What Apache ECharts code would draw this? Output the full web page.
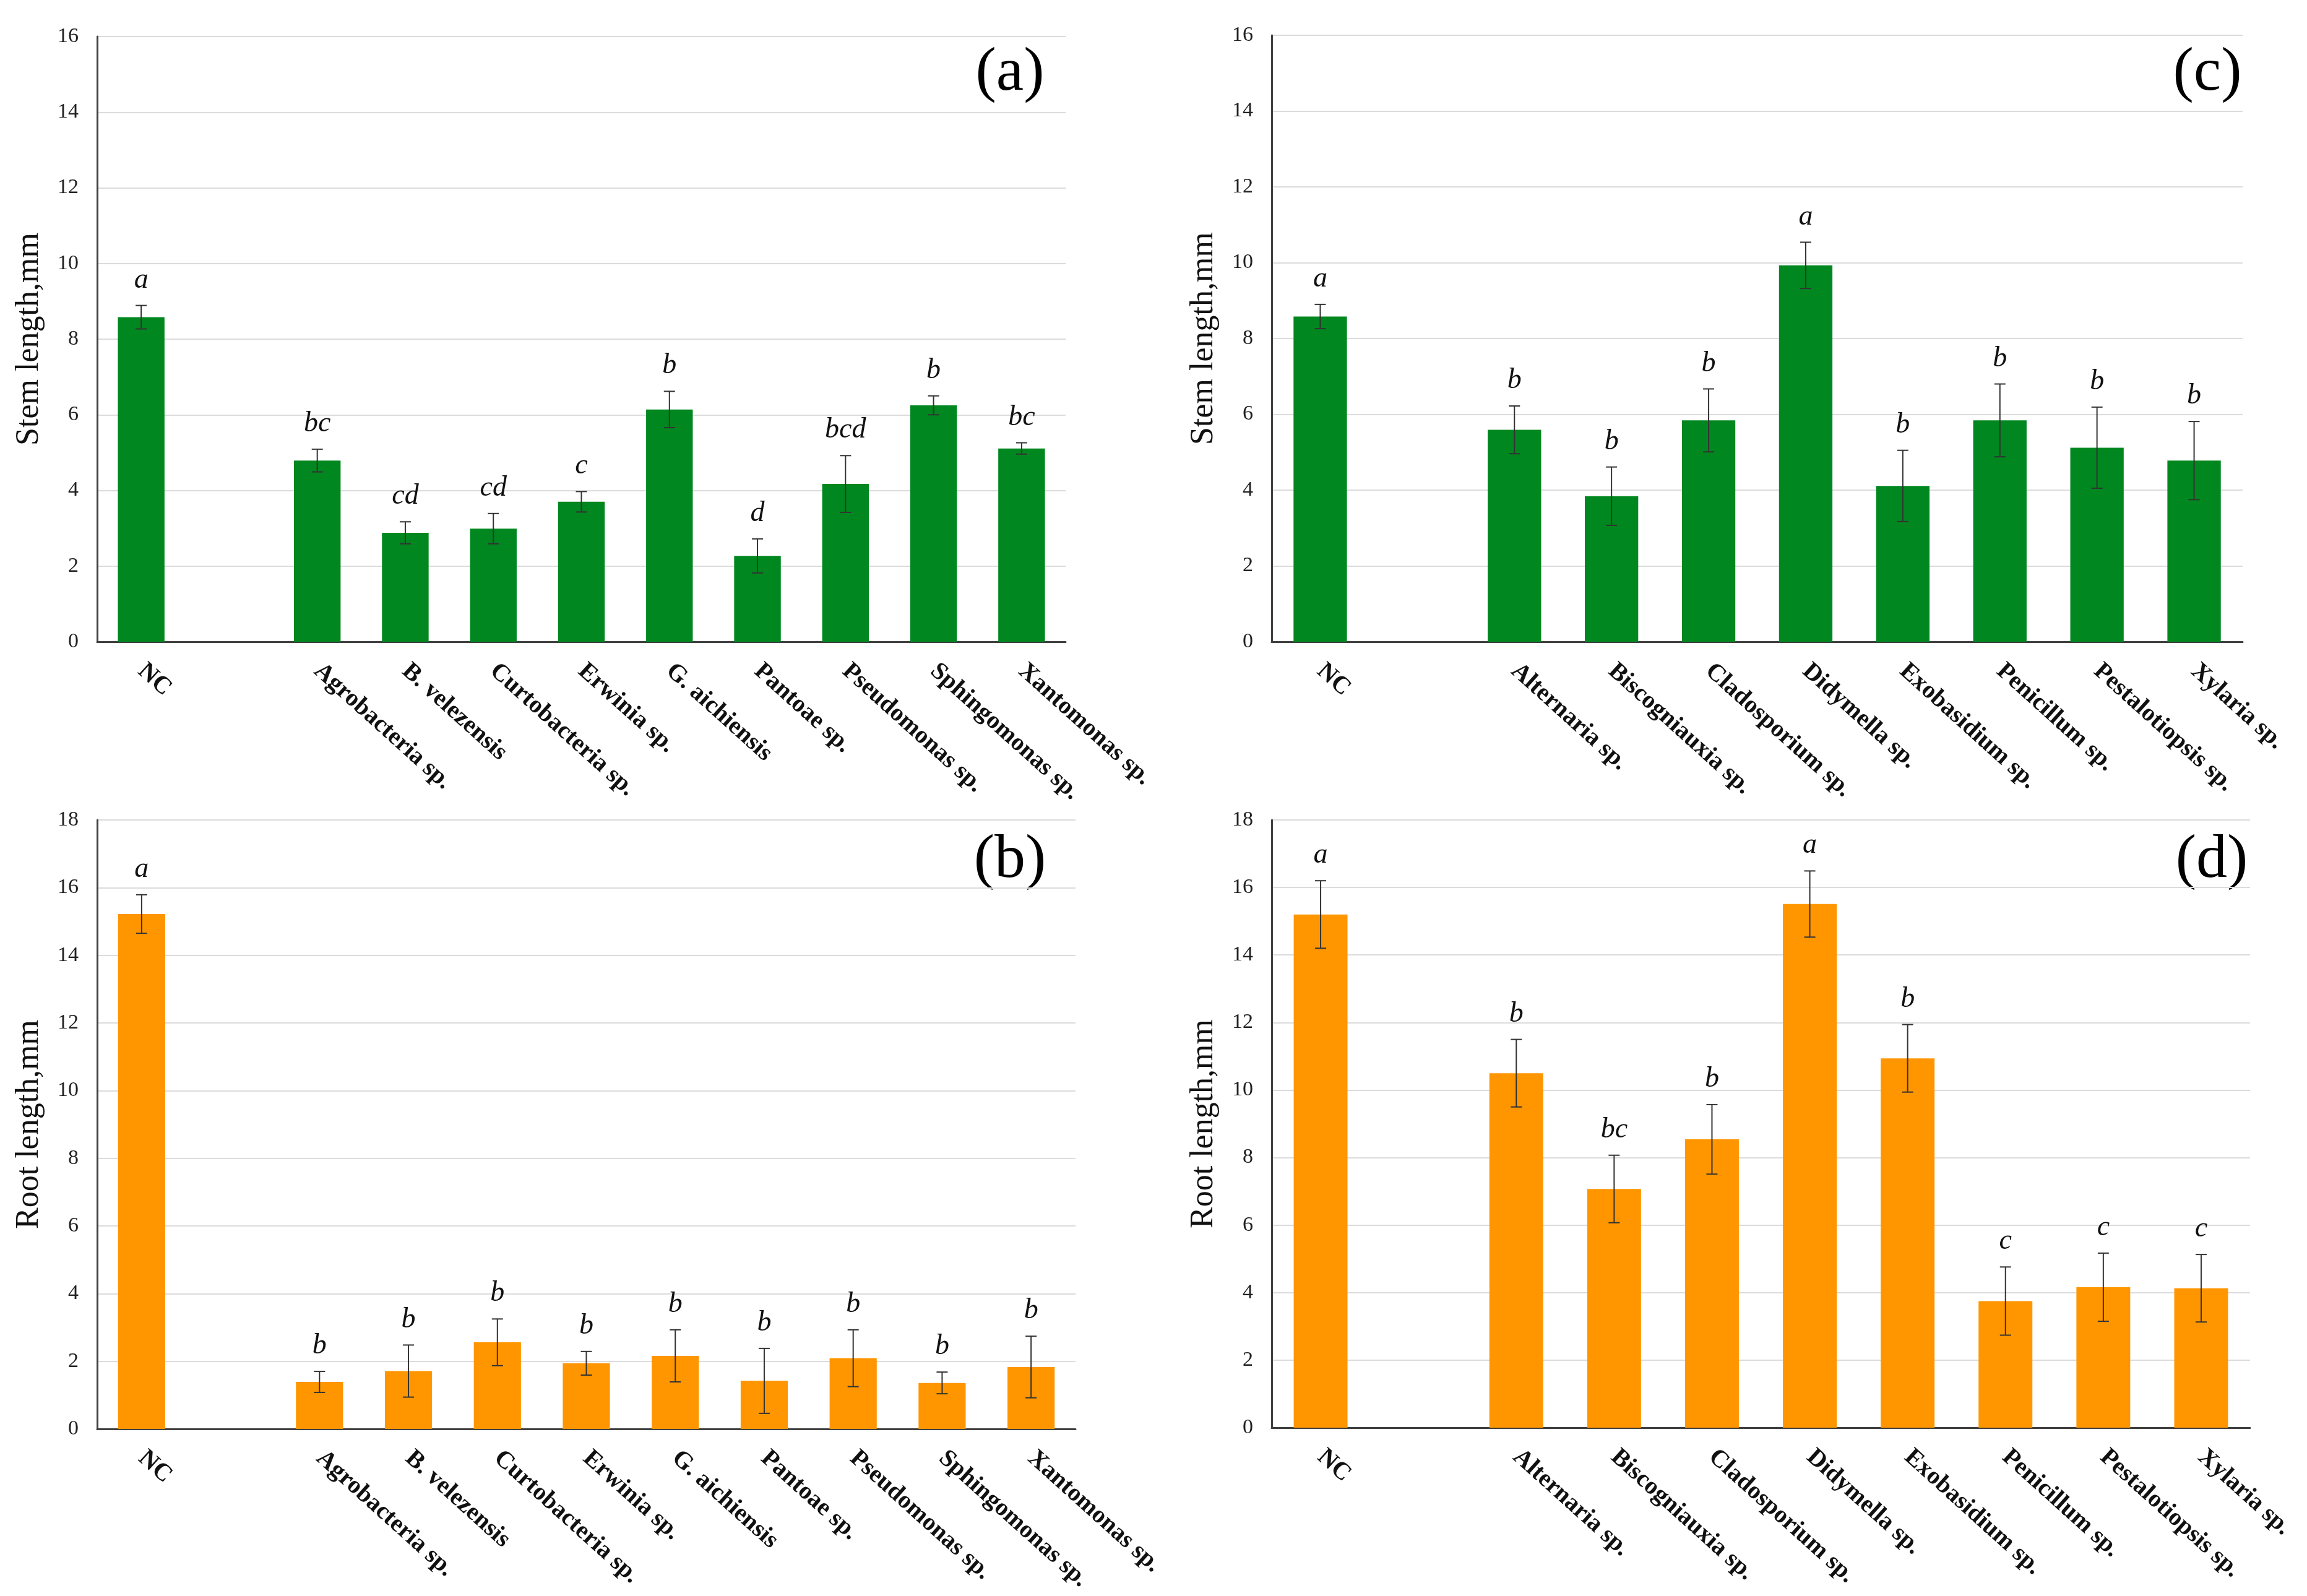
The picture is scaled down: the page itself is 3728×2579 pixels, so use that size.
<!DOCTYPE html>
<html>
<head>
<meta charset="utf-8">
<script src="https://cdn.jsdelivr.net/npm/echarts@6/dist/echarts.min.js"></script>
<style>
  html, body { margin: 0; padding: 0; background: #fff; }
  #chart { width: 3728px; height: 2579px; }
</style>
</head>
<body>
<div id="chart"></div>
<script>
// categories (empty slot after NC, as in the original)
const bacteriaCats = ["NC", "", "Agrobacteria sp.", "B. velezensis", "Curtobacteria sp.", "Erwinia sp.",
  "G. aichiensis", "Pantoae sp.", "Pseudomonas sp.", "Sphingomonas sp.", "Xantomonas sp."];
const fungiCats = ["NC", "", "Alternaria sp.", "Biscogniauxia sp.", "Cladosporium sp.", "Didymella sp.",
  "Exobasidium sp.", "Penicillum sp.", "Pestalotiopsis sp.", "Xylaria sp."];

// (a) stem length, bacteria
const bacStem = [8.58, null, 4.79, 2.88, 2.99, 3.70, 6.14, 2.27, 4.17, 6.25, 5.11];
const bacStemErr = [0.31, null, 0.30, 0.29, 0.40, 0.27, 0.48, 0.45, 0.75, 0.25, 0.15];
const bacStemLetters = ["a", "", "bc", "cd", "cd", "c", "b", "d", "bcd", "b", "bc"];

// (b) root length, bacteria
const bacRoot = [15.22, null, 1.39, 1.71, 2.56, 1.94, 2.16, 1.42, 2.09, 1.36, 1.83];
const bacRootErr = [0.57, null, 0.31, 0.77, 0.69, 0.35, 0.77, 0.96, 0.84, 0.32, 0.91];
const bacRootLetters = ["a", "", "b", "b", "b", "b", "b", "b", "b", "b", "b"];

// (c) stem length, fungi
const funStem = [8.58, null, 5.59, 3.84, 5.84, 9.93, 4.11, 5.84, 5.12, 4.78];
const funStemErr = [0.32, null, 0.63, 0.77, 0.83, 0.61, 0.94, 0.96, 1.07, 1.03];
const funStemLetters = ["a", "", "b", "b", "b", "a", "b", "b", "b", "b"];

// (d) root length, fungi
const funRoot = [15.20, null, 10.50, 7.07, 8.54, 15.51, 10.94, 3.75, 4.16, 4.13];
const funRootErr = [1.00, null, 1.00, 1.00, 1.03, 0.98, 1.00, 1.01, 1.01, 1.00];
const funRootLetters = ["a", "", "b", "bc", "b", "a", "b", "c", "c", "c"];

const stemTicks = { max: 16, interval: 2 };
const rootTicks = { max: 18, interval: 2 };

const GREEN = "#00871f";
const ORANGE = "#ff9600";
const SERIF = "'Liberation Serif', 'DejaVu Serif', serif";

const panels = [
  { cats: bacteriaCats, vals: bacStem, errs: bacStemErr, letters: bacStemLetters, ticks: stemTicks,
    color: GREEN, name: "Stem length,mm", barWidth: "53%",
    grid: { left: 157, right: 2006, top: 59, bottom: 1542 } },
  { cats: fungiCats, vals: funStem, errs: funStemErr, letters: funStemLetters, ticks: stemTicks,
    color: GREEN, name: "Stem length,mm", barWidth: "55%",
    grid: { left: 2055, right: 104, top: 57, bottom: 1542 } },
  { cats: bacteriaCats, vals: bacRoot, errs: bacRootErr, letters: bacRootLetters, ticks: rootTicks,
    color: ORANGE, name: "Root length,mm", barWidth: "53%",
    grid: { left: 157, right: 1990, top: 1325, bottom: 270 } },
  { cats: fungiCats, vals: funRoot, errs: funRootErr, letters: funRootLetters, ticks: rootTicks,
    color: ORANGE, name: "Root length,mm", barWidth: "55%",
    grid: { left: 2055, right: 92, top: 1325, bottom: 272 } }
];

const grids = [], xAxes = [], yAxes = [], series = [];

panels.forEach((p, k) => {
  grids.push(Object.assign({ containLabel: false }, p.grid));
  xAxes.push({
    type: "category",
    gridIndex: k,
    data: p.cats,
    axisLine: { lineStyle: { color: "#404040", width: 3 } },
    axisTick: { show: false },
    axisLabel: {
      interval: 0, rotate: -42, margin: 42,
      fontFamily: SERIF, fontWeight: "bold", fontSize: 40, color: "#111"
    }
  });
  yAxes.push({
    type: "value",
    gridIndex: k,
    min: 0, max: p.ticks.max, interval: p.ticks.interval,
    name: p.name, nameLocation: "middle", nameGap: 84,
    nameTextStyle: { fontFamily: SERIF, fontSize: 52, color: "#111" },
    axisLine: { show: true, lineStyle: { color: "#404040", width: 3 } },
    axisTick: { show: false },
    axisLabel: { fontFamily: SERIF, fontSize: 34, color: "#222", margin: 30 },
    splitLine: { lineStyle: { color: "#dcdcdc", width: 2 } }
  });
  series.push({
    type: "bar",
    xAxisIndex: k, yAxisIndex: k,
    data: p.vals,
    barWidth: p.barWidth,
    itemStyle: { color: p.color },
    silent: true
  });
  const errData = p.vals.map((v, i) => v == null ? [i, "-", "-"] : [i, v, p.errs[i]]);
  const letters = p.letters;
  series.push({
    type: "custom",
    xAxisIndex: k, yAxisIndex: k,
    data: errData,
    silent: true,
    z: 5,
    renderItem: function (params, api) {
      const i = api.value(0);
      const v = api.value(1);
      const e = api.value(2);
      if (isNaN(v)) return;
      const hi = api.coord([i, v + e]);
      const lo = api.coord([i, v - e]);
      const cap = 9;
      const st = { stroke: "#333", lineWidth: 2 };
      return {
        type: "group",
        children: [
          { type: "line", shape: { x1: hi[0], y1: hi[1], x2: lo[0], y2: lo[1] }, style: st },
          { type: "line", shape: { x1: hi[0] - cap, y1: hi[1], x2: hi[0] + cap, y2: hi[1] }, style: st },
          { type: "line", shape: { x1: lo[0] - cap, y1: lo[1], x2: lo[0] + cap, y2: lo[1] }, style: st },
          {
            type: "text",
            x: hi[0], y: hi[1] - 18,
            style: {
              text: letters[params.dataIndex],
              fontFamily: SERIF, fontStyle: "italic", fontSize: 46, fill: "#111",
              align: "center", verticalAlign: "bottom"
            }
          }
        ]
      };
    }
  });
});

const chart = echarts.init(document.getElementById("chart"), null, { renderer: "canvas" });
chart.setOption({
  backgroundColor: "#fff",
  animation: false,
  grid: grids,
  xAxis: xAxes,
  yAxis: yAxes,
  series: series,
  graphic: [
    { type: "text", x: 1632, y: 119, style: { text: "(a)", font: "100px " + SERIF, fill: "#000", align: "center", verticalAlign: "middle" } },
    { type: "text", x: 3567, y: 119, style: { text: "(c)", font: "100px " + SERIF, fill: "#000", align: "center", verticalAlign: "middle" } },
    { type: "text", x: 1632, y: 1391, style: { text: "(b)", font: "100px " + SERIF, fill: "#000", align: "center", verticalAlign: "middle" } },
    { type: "text", x: 3574, y: 1391, style: { text: "(d)", font: "100px " + SERIF, fill: "#000", align: "center", verticalAlign: "middle" } }
  ]
});
</script>
</body>
</html>
